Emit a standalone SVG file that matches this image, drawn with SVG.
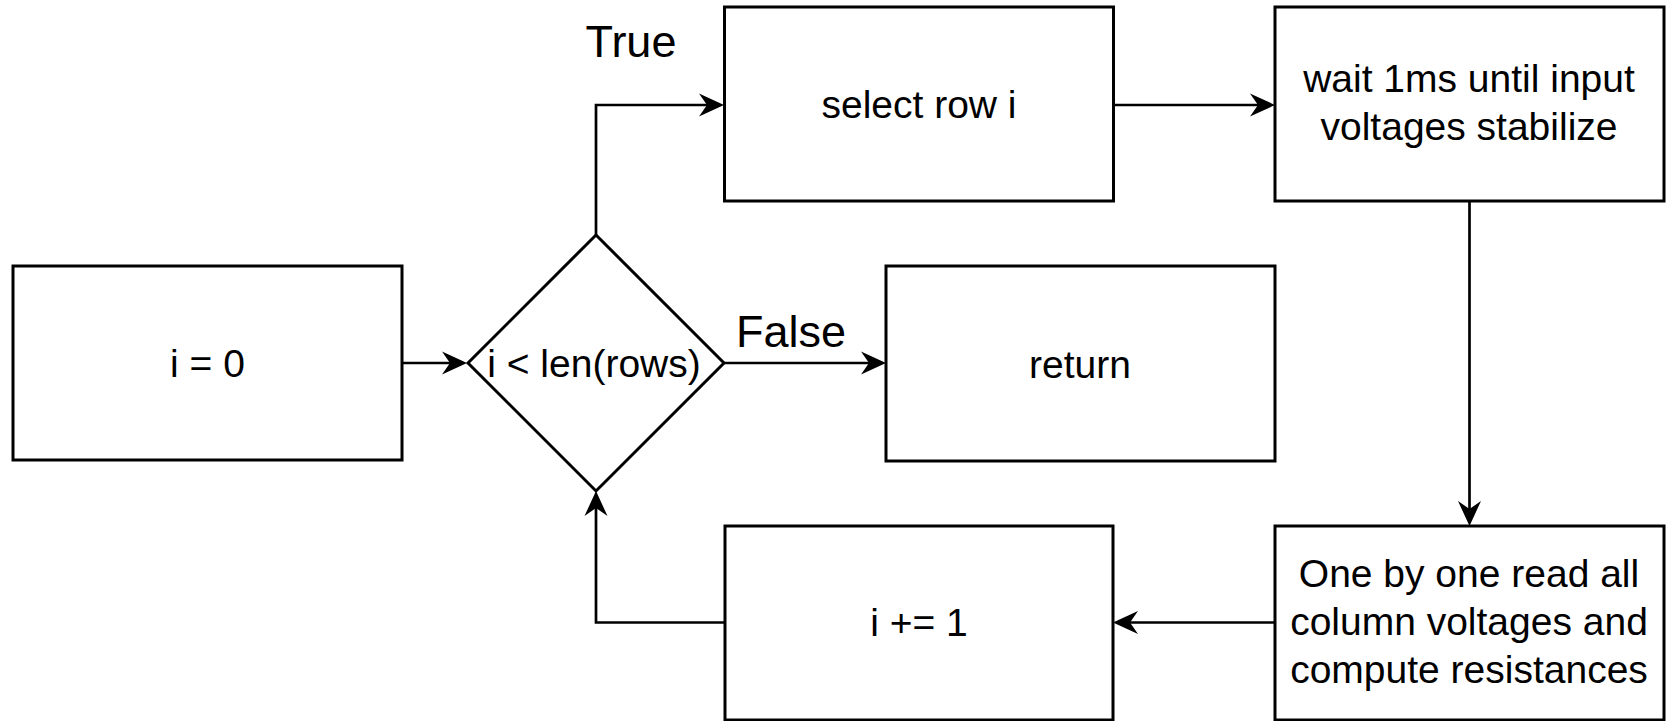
<svg xmlns="http://www.w3.org/2000/svg" width="1671" height="721" viewBox="0 0 1671 721">
  <style>
    .box { fill: #ffffff; stroke: #000000; stroke-width: 3; }
    .conn { fill: none; stroke: #000000; stroke-width: 2.7; }
    .t { font-family: "Liberation Sans", Arial, sans-serif; font-size: 39px; fill: #000000; text-anchor: middle; }
    .lbl { font-family: "Liberation Sans", Arial, sans-serif; font-size: 45px; fill: #000000; text-anchor: middle; }
  </style>
  <defs>
    <marker id="arrow" viewBox="-20 -13 27 26" refX="0" refY="0" markerWidth="27" markerHeight="26" markerUnits="userSpaceOnUse" orient="auto">
      <path d="M6,0 L-19,-11.5 L-11,0 L-19,11.5 Z" fill="#000000"/>
    </marker>
  </defs>
  <rect x="0" y="0" width="1671" height="721" fill="#ffffff"/>

  <g id="connectors">
    <path class="conn" d="M402,363 L461,363" marker-end="url(#arrow)"/>
    <path class="conn" d="M596,235 L596,105 L718,105" marker-end="url(#arrow)"/>
    <path class="conn" d="M1113,105 L1269,105" marker-end="url(#arrow)"/>
    <path class="conn" d="M1469.5,201 L1469.5,520" marker-end="url(#arrow)"/>
    <path class="conn" d="M1275,622.5 L1119,622.5" marker-end="url(#arrow)"/>
    <path class="conn" d="M725,622.5 L596,622.5 L596,497" marker-end="url(#arrow)"/>
    <path class="conn" d="M724,363 L880,363" marker-end="url(#arrow)"/>
    <text class="lbl" x="631" y="57">True</text>
    <text class="lbl" x="791" y="347">False</text>
  </g>

  <g id="init">
    <rect class="box" x="13" y="266" width="389" height="194"/>
    <text class="t" x="207.5" y="377">i = 0</text>
  </g>

  <g id="cond">
    <polygon class="box" points="596,235 724,363 596,491 468,363"/>
    <text class="t" x="594" y="377" font-size="40">i &lt; len(rows)</text>
  </g>

  <g id="select">
    <rect class="box" x="724.5" y="7" width="389" height="194"/>
    <text class="t" x="919" y="118">select row i</text>
  </g>

  <g id="wait">
    <rect class="box" x="1275" y="7" width="389" height="194"/>
    <text class="t" x="1469" y="92">wait 1ms until input</text>
    <text class="t" x="1469" y="139.5">voltages stabilize</text>
  </g>

  <g id="return">
    <rect class="box" x="886" y="266" width="389" height="195"/>
    <text class="t" x="1080" y="378">return</text>
  </g>

  <g id="read">
    <rect class="box" x="1275" y="526" width="389" height="194"/>
    <text class="t" x="1469" y="587">One by one read all</text>
    <text class="t" x="1469" y="635">column voltages and</text>
    <text class="t" x="1469" y="683">compute resistances</text>
  </g>

  <g id="incr">
    <rect class="box" x="725" y="526" width="388" height="194"/>
    <text class="t" x="919" y="636">i += 1</text>
  </g>
</svg>
